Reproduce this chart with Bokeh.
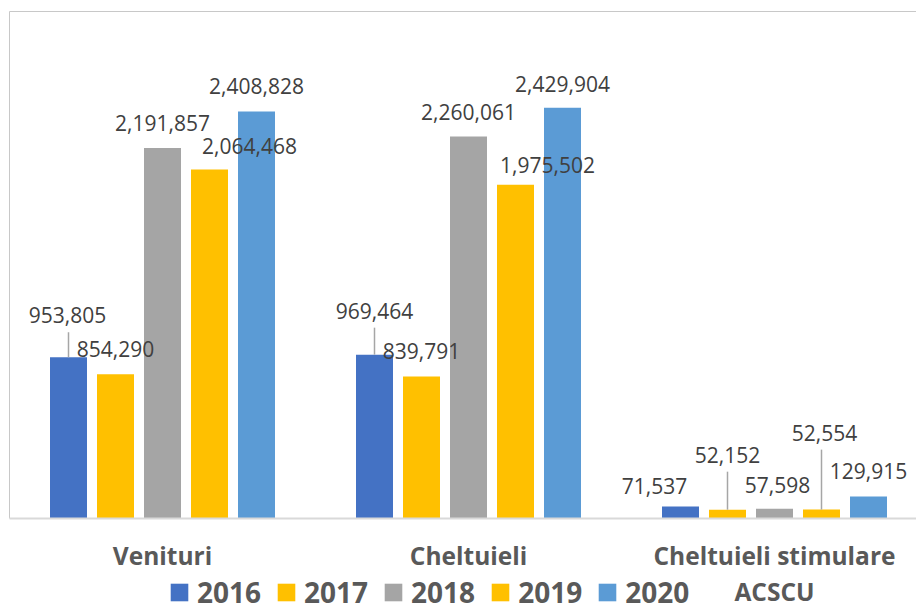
import math
from bokeh.plotting import figure
from bokeh.models import ColumnDataSource, Range1d, Legend, LegendItem, LabelSet
from bokeh.core.properties import value
from bokeh.embed import file_html
from bokeh.resources import INLINE

# ---------------- data ----------------
categories = ["Venituri", "Cheltuieli", "Cheltuieli stimulare\nACSCU"]
years = ["2016", "2017", "2018", "2019", "2020"]
v2016 = [953805, 969464, 71537]
v2017 = [854290, 839791, 52152]
v2018 = [2191857, 2260061, 57598]
v2019 = [2064468, 1975502, 52554]
v2020 = [2408828, 2429904, 129915]
series = [v2016, v2017, v2018, v2019, v2020]
colors = ["#4472C4", "#FFC000", "#A5A5A5", "#FFC000", "#5B9BD5"]
Y_MAX = 3000000

# ---------------- layout / label placement (pixels) ----------------
# offsets of each value label (centre x, digit bottom) from the top-centre of its bar
label_dx = [[-1, 0, -26], [0, 0, 0], [0, 0, 3], [40, 32, 3], [0, 0, 0]]
label_dy = [[-34, -36, -12], [-17, -18, -47], [-17, -17, -16], [-16, -12, -69], [-17, -16, -18]]
leader = [[True, True, False], [False, False, True], [False, False, False],
          [False, False, True], [False, False, False]]
BASELINE_FIX = -8

W, H = 916, 606
LEFT_PX, TOP_PX, BASE_PX = 9, 11, 518     # chart box left / top, axis line position
GROUP_PX, STEP_PX, BAR_PX = 306.0, 47.0, 37.0
FONT = "Open Sans"

k = Y_MAX / (BASE_PX - TOP_PX)            # data units per pixel (vertical)
x_start = -LEFT_PX / GROUP_PX
x_end = (W - LEFT_PX) / GROUP_PX
y_start = -(H - BASE_PX) * k
y_end = Y_MAX + TOP_PX * k

p = figure(width=W, height=H, output_backend="svg", toolbar_location=None,
           x_range=Range1d(x_start, x_end), y_range=Range1d(y_start, y_end),
           min_border=0)
p.xaxis.visible = False
p.yaxis.visible = False
p.xgrid.visible = False
p.ygrid.visible = False
p.outline_line_color = None
p.background_fill_color = "white"
p.border_fill_color = "white"

# chart box (top and left edges)
p.segment(x0=[0, 0], y0=[Y_MAX, 0], x1=[x_end, 0], y1=[Y_MAX, Y_MAX],
          line_color="#c8c8c8", line_width=1)

renderers = []
sources = []
xs_all = []
for i, vals in enumerate(series):
    xs = [g + 0.5 + (i - 2) * STEP_PX / GROUP_PX for g in range(len(categories))]
    xs_all.append(xs)
    src = ColumnDataSource(dict(
        x=xs, top=vals,
        txt=[f"{v:,}" for v in vals],
        dx=label_dx[i], dy=[d + BASELINE_FIX for d in label_dy[i]],
    ))
    sources.append(src)
    r = p.vbar(x="x", top="top", width=BAR_PX / GROUP_PX, source=src,
               fill_color=colors[i], line_color=None)
    renderers.append(r)

# axis line
p.segment(x0=[0], y0=[0], x1=[x_end], y1=[0], line_color="#d9d9d9", line_width=2)

for i, vals in enumerate(series):
    xs = xs_all[i]
    lx = [xs[g] for g in range(len(categories)) if leader[i][g]]
    ly = [vals[g] for g in range(len(categories)) if leader[i][g]]
    ll = [abs(label_dy[i][g]) - 9 for g in range(len(categories)) if leader[i][g]]
    if lx:
        p.ray(x=lx, y=ly, length=ll, angle=math.pi / 2, length_units="screen",
              line_color="#a6a6a6", line_width=1.5)

for i, src in enumerate(sources):
    p.text(x="x", y="top", text="txt", x_offset="dx", y_offset="dy", source=src,
           text_font=value(FONT), text_font_size="21px", text_color="#404040",
           text_align="center", text_baseline="alphabetic")

# category labels (one LabelSet per text line, each line centred)
cat_x = [g + 0.5 for g in range(len(categories))]
line1 = [c.split("\n")[0] for c in categories]
line2 = [c.split("\n")[1] if "\n" in c else "" for c in categories]
for lines, off in ((line1, -20), (line2, -56)):
    src = ColumnDataSource(dict(x=cat_x, y=[0] * len(categories), t=lines))
    p.add_layout(LabelSet(x="x", y="y", text="t", source=src, y_offset=off,
                          text_align="center", text_baseline="top",
                          text_font=value(FONT), text_font_size="24.5px",
                          text_font_style="bold", text_color="#595959"))

legend = Legend(items=[LegendItem(label=years[i], renderers=[renderers[i]]) for i in range(5)],
                orientation="horizontal", location=(168, -5),
                glyph_width=22, glyph_height=22, label_standoff=7, spacing=14,
                padding=0, margin=0, border_line_color=None, background_fill_alpha=0,
                label_text_font=FONT, label_text_font_size="28px",
                label_text_font_style="bold", label_text_color="#595959")
p.add_layout(legend)

open("out.html", "w").write(file_html(p, INLINE))
